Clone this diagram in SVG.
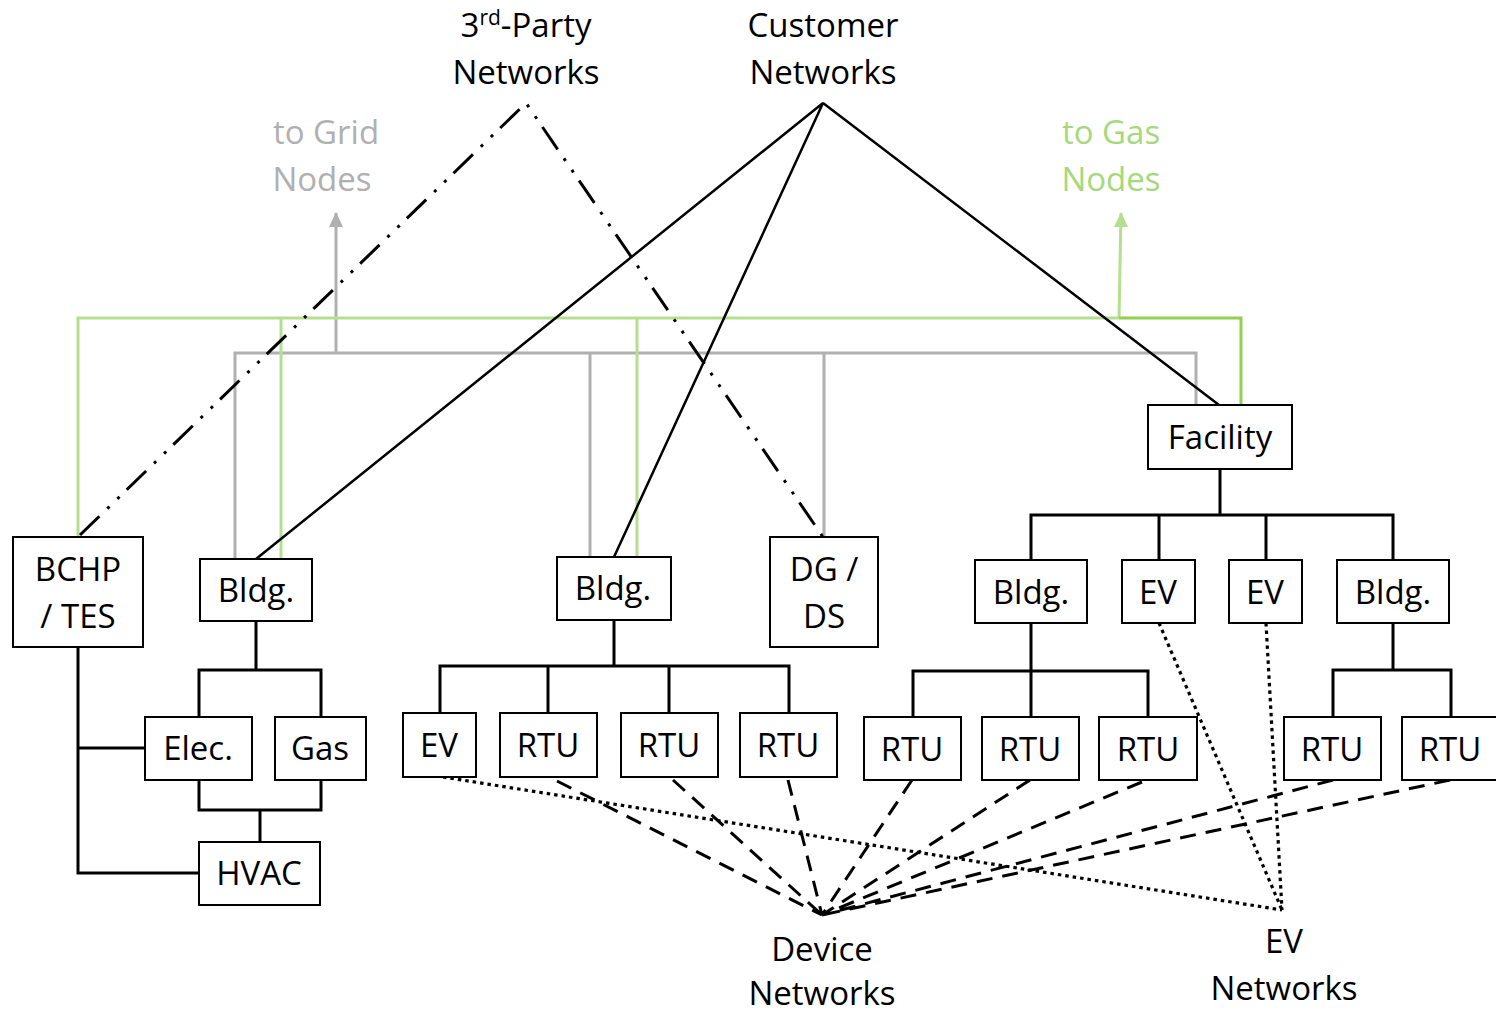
<svg xmlns="http://www.w3.org/2000/svg" width="1496" height="1016" viewBox="0 0 1496 1016">
<style>
.box{fill:#fff;stroke:#000;stroke-width:2}
.t{font-family:"Open Sans","Liberation Sans",sans-serif;font-size:33px;text-anchor:middle;fill:#000}
.tree{stroke:#000;stroke-width:3;fill:none;stroke-linejoin:miter}
.cust{stroke:#000;stroke-width:2.5;fill:none}
.party{stroke:#000;stroke-width:3;fill:none;stroke-dasharray:27 11 3 11 3 10}
.dev{stroke:#000;stroke-width:3;fill:none;stroke-dasharray:16 10}
.evn{stroke:#000;stroke-width:3.2;fill:none;stroke-dasharray:3.5 4}
.grid{stroke:#b0b0b0;stroke-width:3;fill:none}
.gas{stroke:#b5df8f;stroke-width:3;fill:none}
.gas2{stroke:#92d050;stroke-width:3;fill:none}
</style>
<defs>
<marker id="ag" markerUnits="userSpaceOnUse" markerWidth="14" markerHeight="16" refX="7" refY="1" orient="0">
<path d="M0,15 L7,0 L14,15 z" fill="#b0b0b0"/>
</marker>
<marker id="an" markerUnits="userSpaceOnUse" markerWidth="14" markerHeight="16" refX="7" refY="1" orient="0">
<path d="M0,15 L7,0 L14,15 z" fill="#b5df8f"/>
</marker>
</defs>
<g id="labels">
<text class="t" x="526" y="37">3<tspan font-size="21" dy="-12">rd</tspan><tspan dy="12">-Party</tspan></text>
<text class="t" x="526" y="84">Networks</text>
<text class="t" x="823" y="37">Customer</text>
<text class="t" x="823" y="84">Networks</text>
<text class="t" x="326" y="144" style="fill:#b0b0b0">to Grid</text>
<text class="t" x="322" y="191" style="fill:#b0b0b0">Nodes</text>
<text class="t" x="1111" y="144" style="fill:#a5d97b">to Gas</text>
<text class="t" x="1111" y="191" style="fill:#a5d97b">Nodes</text>
<text class="t" x="822" y="961">Device</text>
<text class="t" x="822" y="1005">Networks</text>
<text class="t" x="1284" y="953">EV</text>
<text class="t" x="1284" y="1000">Networks</text>
</g>
<g id="connectors">
<path class="grid" d="M235,559 V353 H1196 V405 M590,353 V557 M824,353 V537"/>
<path class="grid" d="M336,353 V213" marker-end="url(#ag)"/>
<path class="gas" d="M78,537 V318 H1119 M281,318 V559 M637,318 V557"/>
<path class="gas" d="M1119,318 L1121,213" marker-end="url(#an)"/>
<path class="gas2" d="M1119,318 H1241 V405"/>
<path class="cust" d="M256,559 L823,103 L614,557 M823,103 L1219,405"/>
<path class="party" d="M80,535 L526,103 L823,537"/>
<path class="tree" d="M256,621 V670 M199,717 V670 H321 V717 M199,780 V810 H321 V780 M260,810 V842 M78,647 V873 H199 M78,748 H145"/>
<path class="tree" d="M614,620 V666 M440,713 V666 H789 V713 M548,666 V713 M669,666 V713"/>
<path class="tree" d="M1220,469 V515 M1031,560 V515 H1393 V560 M1159,515 V560 M1266,515 V560"/>
<path class="tree" d="M1031,623 V671 M913,717 V671 H1148 V717 M1031,671 V717"/>
<path class="tree" d="M1393,623 V670 M1333,717 V670 H1451 V717"/>
<path class="dev" d="M557,781 L822,915 M673,780 L822,915 M788,780 L822,915 M912,780 L822,915 M1030,780 L822,915 M1142,782 L822,915 M1333,780 L822,915 M1450,780 L822,915"/>
<path class="evn" d="M443,777 L1282,910 M1159,623 L1282,910 M1266,623 L1282,910"/>
</g>
<g id="bchp"><rect class="box" x="13" y="537" width="130" height="110"/><text class="t" x="78" y="581">BCHP</text><text class="t" x="78" y="628">/ TES</text></g>
<g id="bldg1"><rect class="box" x="200" y="559" width="112" height="62"/><text class="t" x="256" y="602">Bldg.</text></g>
<g id="elec"><rect class="box" x="145" y="717" width="107" height="63"/><text class="t" x="198" y="760">Elec.</text></g>
<g id="gas"><rect class="box" x="275" y="717" width="91" height="63"/><text class="t" x="320" y="760">Gas</text></g>
<g id="hvac"><rect class="box" x="199" y="842" width="121" height="63"/><text class="t" x="259" y="885">HVAC</text></g>
<g id="bldg2"><rect class="box" x="557" y="557" width="114" height="63"/><text class="t" x="613" y="600">Bldg.</text></g>
<g id="ev-a"><rect class="box" x="403" y="713" width="73" height="64"/><text class="t" x="439" y="757">EV</text></g>
<g id="rtu-a1"><rect class="box" x="500" y="713" width="97" height="64"/><text class="t" x="548" y="757">RTU</text></g>
<g id="rtu-a2"><rect class="box" x="621" y="713" width="97" height="64"/><text class="t" x="669" y="757">RTU</text></g>
<g id="rtu-a3"><rect class="box" x="740" y="713" width="97" height="64"/><text class="t" x="788" y="757">RTU</text></g>
<g id="dgds"><rect class="box" x="770" y="537" width="108" height="110"/><text class="t" x="824" y="581">DG /</text><text class="t" x="824" y="628">DS</text></g>
<g id="facility"><rect class="box" x="1148" y="405" width="144" height="64"/><text class="t" x="1220" y="449">Facility</text></g>
<g id="bldg3"><rect class="box" x="975" y="560" width="112" height="63"/><text class="t" x="1031" y="604">Bldg.</text></g>
<g id="ev-b1"><rect class="box" x="1122" y="560" width="73" height="63"/><text class="t" x="1158" y="604">EV</text></g>
<g id="ev-b2"><rect class="box" x="1229" y="560" width="73" height="63"/><text class="t" x="1265" y="604">EV</text></g>
<g id="bldg4"><rect class="box" x="1337" y="560" width="112" height="63"/><text class="t" x="1393" y="604">Bldg.</text></g>
<g id="rtu-b1"><rect class="box" x="864" y="717" width="97" height="63"/><text class="t" x="912" y="761">RTU</text></g>
<g id="rtu-b2"><rect class="box" x="982" y="717" width="97" height="63"/><text class="t" x="1030" y="761">RTU</text></g>
<g id="rtu-b3"><rect class="box" x="1099" y="717" width="98" height="63"/><text class="t" x="1148" y="761">RTU</text></g>
<g id="rtu-c1"><rect class="box" x="1284" y="717" width="97" height="63"/><text class="t" x="1332" y="761">RTU</text></g>
<g id="rtu-c2"><rect class="box" x="1402" y="717" width="97" height="63"/><text class="t" x="1450" y="761">RTU</text></g>
</svg>
